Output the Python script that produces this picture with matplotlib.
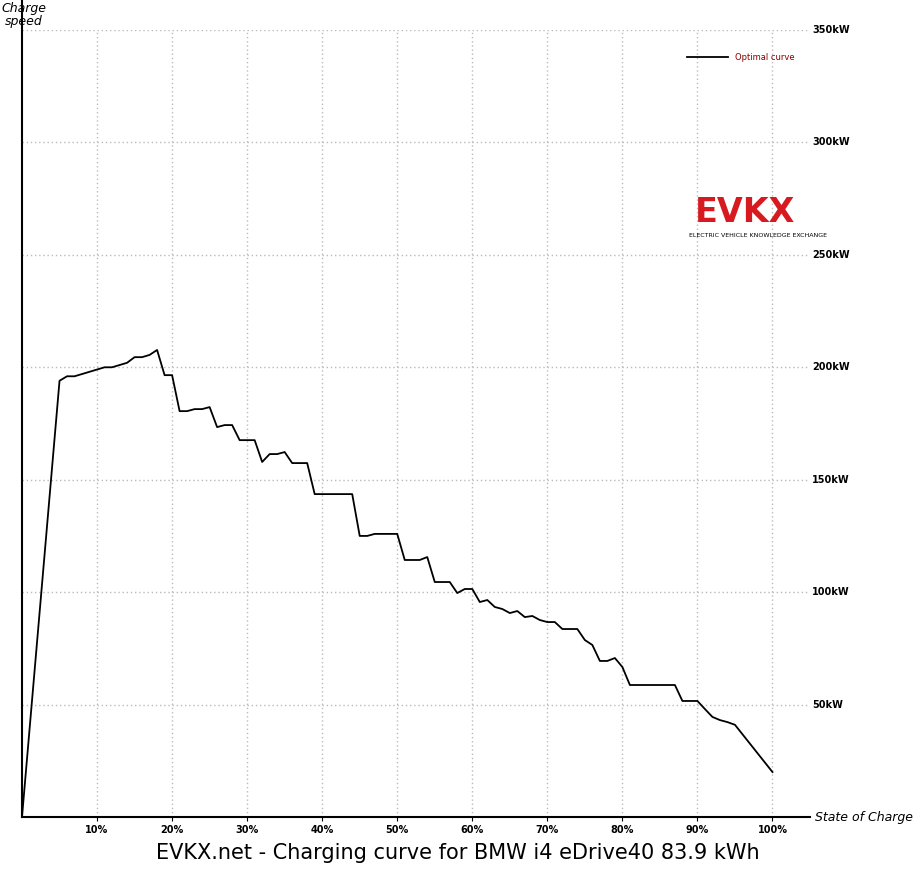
import matplotlib
matplotlib.use("Agg")
import matplotlib.pyplot as plt

soc = [0, 5, 6, 7, 8, 9, 10, 11, 12, 13, 14, 15, 16, 17, 18, 19, 20, 21, 22, 23, 24, 25, 26, 27, 28, 29, 30, 31, 32, 33, 34, 35, 36, 37, 38, 39, 40, 41, 42, 43, 44, 45, 46, 47, 48, 49, 50, 51, 52, 53, 54, 55, 56, 57, 58, 59, 60, 61, 62, 63, 64, 65, 66, 67, 68, 69, 70, 71, 72, 73, 74, 75, 76, 77, 78, 79, 80, 81, 82, 83, 84, 85, 86, 87, 88, 89, 90, 91, 92, 93, 94, 95, 100]
kw = [0, 194, 196, 196, 197, 198, 199, 200, 200, 201, 202, 204.5, 204.5, 205.5, 207.7, 196.5, 196.5, 180.5, 180.5, 181.4, 181.4, 182.3, 173.4, 174.3, 174.3, 167.6, 167.6, 167.6, 157.9, 161.4, 161.4, 162.3, 157.4, 157.4, 157.4, 143.6, 143.6, 143.6, 143.6, 143.6, 143.6, 125, 125, 125.9, 125.9, 125.9, 125.9, 114.3, 114.3, 114.3, 115.6, 104.5, 104.5, 104.5, 99.6, 101.4, 101.4, 95.6, 96.5, 93.4, 92.5, 90.7, 91.6, 88.9, 89.4, 87.6, 86.7, 86.7, 83.6, 83.6, 83.6, 78.7, 76.5, 69.4, 69.4, 70.7, 66.7, 58.7, 58.7, 58.7, 58.7, 58.7, 58.7, 58.7, 51.6, 51.6, 51.6, 48, 44.5, 43.1, 42.2, 41, 20]
xticks = [10, 20, 30, 40, 50, 60, 70, 80, 90, 100]
yticks = [50, 100, 150, 200, 250, 300, 350]

fig = plt.figure(figsize=(9.16, 8.73), dpi=100)
ax = fig.add_axes([22/916, 56/873, 788/916, 787/873])
ax.set_xlim(0, 105)
ax.set_ylim(0, 350)
for s in ["top", "right"]:
    ax.spines[s].set_visible(False)
ax.spines["left"].set_linewidth(1.5)
ax.spines["bottom"].set_linewidth(1.5)
ax.spines["left"].set_bounds(0, 363)
ax.spines["left"].set_clip_on(False)
ax.set_xticks(xticks)
ax.set_xticklabels([f"{t}%" for t in xticks], fontsize=7, fontweight="bold")
ax.set_yticks(yticks)
ax.set_yticklabels([])
ax.tick_params(axis="y", length=0)
ax.tick_params(axis="x", length=3, pad=3)
ax.grid(True, color="#bbbbbb", linestyle=(0, (1, 2)), linewidth=1)
for t in yticks:
    ax.text(105.3, t, f"{t}kW", fontsize=7, fontweight="bold", va="center", ha="left", clip_on=False)
ax.plot(soc, kw, color="black", linewidth=1.3, label="Optimal curve", clip_on=False)
leg = ax.legend(loc="upper right", bbox_to_anchor=(0.99, 0.98), frameon=False, fontsize=6, handlelength=5)
for txt in leg.get_texts():
    txt.set_color("#8b0000")
fig.text(24/916, 1 - 15/873, "Charge\nspeed", fontsize=9, style="italic", ha="center", va="center", linespacing=1.0)
fig.text(864/916, 1 - 818/873, "State of Charge", fontsize=9, style="italic", ha="center", va="center")
fig.text(458/916, 1 - 853/873, "EVKX.net - Charging curve for BMW i4 eDrive40 83.9 kWh", fontsize=15, ha="center", va="center")
fig.text(745/916, 1 - 212/873, "EVKX", fontsize=24, fontweight="bold", color="#d71920", ha="center", va="center")
fig.text(758/916, 1 - 236/873, "ELECTRIC VEHICLE KNOWLEDGE EXCHANGE", fontsize=4.5, ha="center", va="center")
fig.savefig("out.png", dpi=100)
